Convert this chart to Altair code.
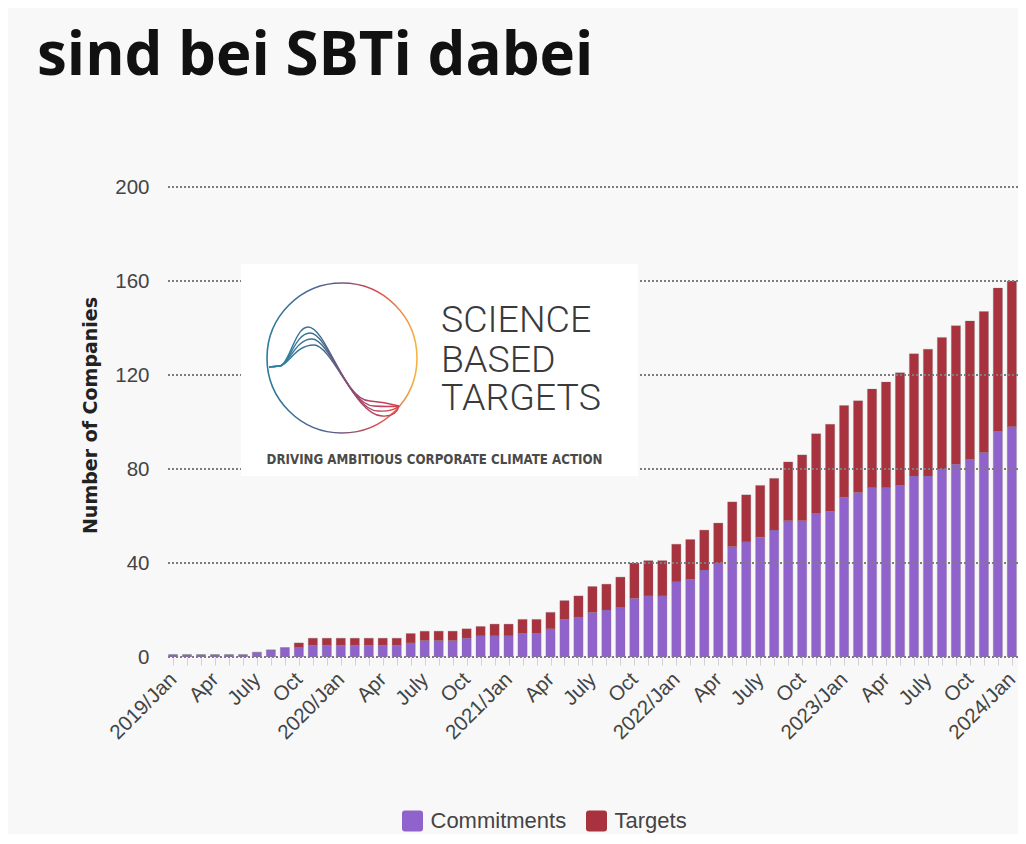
import json
import pandas as pd
import altair as alt

# ---------------- data ----------------
months = [f"{2019 + i // 12}-{i % 12 + 1:02d}" for i in range(62)]  # 2019-01 .. 2024-02

commitments = [1, 1, 1, 1, 1, 1, 2, 3, 4, 4, 5, 5,
               5, 5, 5, 5, 5, 6, 7, 7, 7, 8, 9, 9,
               9, 10, 10, 12, 16, 17, 19, 20, 21, 25, 26, 26,
               32, 33, 37, 40, 47, 49, 51, 54, 58, 58, 61, 62,
               68, 70, 72, 72, 73, 77, 77, 80, 82, 84, 87, 96,
               98, 106]
targets = [0, 0, 0, 0, 0, 0, 0, 0, 0, 2, 3, 3,
           3, 3, 3, 3, 3, 4, 4, 4, 4, 4, 4, 5,
           5, 6, 6, 7, 8, 9, 11, 11, 13, 15, 15, 15,
           16, 17, 17, 17, 19, 20, 22, 22, 25, 28, 34, 37,
           39, 39, 42, 45, 48, 52, 54, 56, 59, 59, 60, 61,
           62, 65]

series_names = ["Commitments", "Targets"]
series_colors = ["#9062CC", "#A8333F"]

tick_labels = ["2019/Jan", "Apr", "July", "Oct",
               "2020/Jan", "Apr", "July", "Oct",
               "2021/Jan", "Apr", "July", "Oct",
               "2022/Jan", "Apr", "July", "Oct",
               "2023/Jan", "Apr", "July", "Oct",
               "2024/Jan"]
tick_months = months[0:61:3]
y_ticks = [0, 40, 80, 120, 160, 200]

title_text = "sind bei SBTi dabei"
y_title = "Number of Companies"
logo_lines = ["SCIENCE", "BASED", "TARGETS"]
logo_tagline = "DRIVING AMBITIOUS CORPORATE CLIMATE ACTION"

# ---------------- tables ----------------
rows = []
for i, m in enumerate(months):
    c, t = commitments[i], targets[i]
    rows.append({"month": m, "idx": i, "series": "Commitments", "lo": 0, "hi": c})
    rows.append({"month": m, "idx": i, "series": "Targets", "lo": c, "hi": c + t})
df = pd.DataFrame(rows)

label_arr = [""] * 61
for m, lab in zip(tick_months, tick_labels):
    label_arr[months.index(m)] = lab
label_expr = json.dumps(label_arr) + "[datum.value]"

dummy = pd.DataFrame({"a": [0]})

y_scale = alt.Scale(domain=[0, 200], nice=False)


def y_axis():
    return alt.Axis(values=y_ticks, title=y_title, domain=False, grid=False,
                    ticks=False, labelPadding=19, labelFont="Liberation Sans",
                    labelFontSize=20.5, labelColor="#444444",
                    titleFont="DejaVu Sans", titleFontSize=19, titleFontWeight="bold",
                    titleColor="#222222", titleX=-78, titleY=228, titleAngle=270,
                    titleAlign="center", titleBaseline="middle")


# ---------------- layers ----------------
bars = alt.Chart(df).transform_calculate(
    x0="datum.idx - 0.33", x1="datum.idx + 0.33"
).mark_bar(clip=True, stroke="#7a7a7a", strokeOpacity=0.25, strokeWidth=1).encode(
    x=alt.X("x0:Q",
            scale=alt.Scale(domain=[-0.36, 60.44], nice=False, zero=False),
            axis=alt.Axis(values=list(range(61)), labelExpr=label_expr, title=None,
                          domain=False, grid=False, ticks=True, tickSize=8,
                          tickColor="#d2d2d2", tickWidth=1,
                          labelAngle=315, labelAlign="right", labelBaseline="middle",
                          labelPadding=11, labelOffset=0, labelFont="Liberation Sans",
                          labelFontSize=20.5, labelColor="#444444",
                          labelOverlap=False, labelFlush=False)),
    x2="x1:Q",
    y=alt.Y("lo:Q", scale=y_scale, axis=y_axis()),
    y2="hi:Q",
    color=alt.Color("series:N",
                    scale=alt.Scale(domain=series_names, range=series_colors),
                    legend=alt.Legend(
                        title=None, orient="none", legendX=233.5, legendY=623,
                        direction="horizontal",
                        symbolType="M -0.72 -1 L 0.72 -1 Q 1 -1 1 -0.72 L 1 0.72 Q 1 1 0.72 1 L -0.72 1 Q -1 1 -1 0.72 L -1 -0.72 Q -1 -1 -0.72 -1 Z",
                        symbolSize=441, symbolStrokeWidth=0, symbolOpacity=1,
                        labelFont="Liberation Sans", labelFontSize=22, labelColor="#444444",
                        labelOffset=7, columnPadding=19, padding=0)),
)

grid = alt.Chart(pd.DataFrame({"v": y_ticks})).mark_rule(
    strokeDash=[2, 2], color="#7d7d7d", strokeWidth=1.8
).encode(y=alt.Y("v:Q", scale=y_scale, axis=y_axis()))

logo_box = alt.Chart(dummy).mark_rect(color="white").encode(
    x=alt.value(73), x2=alt.value(470), y=alt.value(77), y2=alt.value(289))

circle_grad = alt.LinearGradient(
    gradient="linear", x1=0, x2=1, y1=0, y2=0,
    stops=[alt.GradientStop(color="#2a7b9c", offset=0),
           alt.GradientStop(color="#5a5f8a", offset=0.45),
           alt.GradientStop(color="#d9464f", offset=0.72),
           alt.GradientStop(color="#f6b444", offset=1)])
curve_grad = alt.LinearGradient(
    gradient="linear", x1=0, x2=1, y1=0, y2=0,
    stops=[alt.GradientStop(color="#2d86a6", offset=0),
           alt.GradientStop(color="#3f6b8c", offset=0.4),
           alt.GradientStop(color="#a4426c", offset=0.7),
           alt.GradientStop(color="#d9404a", offset=1)])

logo_circle = alt.Chart(dummy).mark_point(
    shape="circle", size=22500, filled=False, stroke=circle_grad, strokeWidth=1.6, opacity=1
).encode(x=alt.value(174), y=alt.value(171))

curve_layers = []
for k in range(4):
    py = -31 + 6 * k
    px = -34 + 2 * k
    by = 43 + 5 * k
    bx = 28 + 4 * k
    path = (f"M -73 9 L -62 8 C -53 7 -47 {py} {px} {py} "
            f"C {px + 18} {py} {bx - 26} {by} {bx} {by} Q {bx + 14} {by + 1} 57 48")
    curve_layers.append(alt.Chart(dummy).mark_point(
        shape=path, size=4, filled=False, stroke=curve_grad, strokeWidth=1.4, opacity=1
    ).encode(x=alt.value(174), y=alt.value(171)))

logo_text_layers = []
for line, yb in zip(logo_lines, [145, 185, 223]):
    logo_text_layers.append(alt.Chart(dummy).mark_text(
        text=line, align="left", baseline="alphabetic", font="Roboto",
        fontWeight=300, fontSize=37.5, color="#3a3a3a"
    ).encode(x=alt.value(273), y=alt.value(yb)))

tagline = alt.Chart(dummy).mark_text(
    text=logo_tagline, align="center", baseline="alphabetic",
    font="Liberation Sans Narrow, DejaVu Sans Condensed, Roboto", fontWeight="bold",
    fontSize=13.2, color="#4a4a4a"
).encode(x=alt.value(266.5), y=alt.value(277))

title = alt.Chart(dummy).mark_text(
    text=title_text, align="left", baseline="alphabetic", font="Open Sans",
    fontWeight="bold", fontSize=60, color="#111111"
).encode(x=alt.value(-131), y=alt.value(-112))

chart = alt.layer(
    bars, grid, logo_box, logo_circle, *curve_layers, *logo_text_layers, tagline, title
).properties(
    width=850, height=470,
    autosize=alt.AutoSizeParams(type="none"),
    padding={"left": 160, "top": 179, "right": 0, "bottom": 177},
    background="#f8f8f8",
).configure_view(stroke=None)

chart.save("out.html", embed_options={"renderer": "svg", "actions": False})
